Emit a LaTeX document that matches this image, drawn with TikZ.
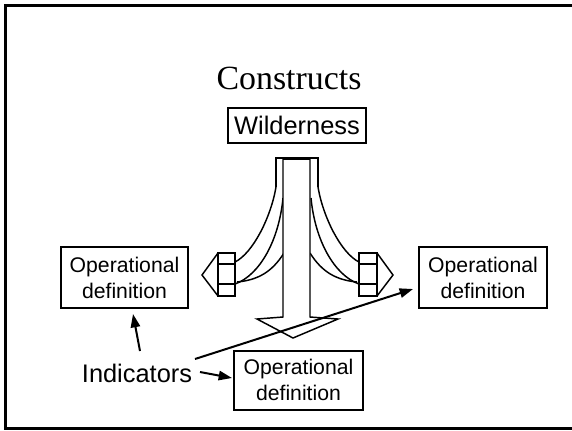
\documentclass[tikz,border=0pt]{standalone}
\usepackage{fontspec}
\newfontfamily\arialf{Liberation Sans}
\newfontfamily\tnrf{Liberation Serif}
\usetikzlibrary{arrows.meta}
\begin{document}
\begin{tikzpicture}[x=0.75pt,y=-0.75pt,
  opbox/.style={draw,line width=1.5pt,minimum width=95pt,minimum height=45.5pt,inner sep=0pt,align=center,
    font=\arialf\fontsize{15.9}{19.5}\selectfont},
  fig/.style={draw,line width=1.1pt,line join=miter},
  ind/.style={line width=1.5pt,-{Triangle[length=10pt,width=7pt]}}]
\useasboundingbox (0,0) rectangle (572,430);
\begin{scope}
\clip (0,0) rectangle (572,430);
\draw[line width=2pt] (5.3,5.3) rectangle (590,428.7);
\end{scope}
\node[font=\tnrf\fontsize{25.4}{30}\selectfont,anchor=base] (title) at (289,89) {Constructs};
\node[draw,line width=1.5pt,minimum width=103.5pt,minimum height=26.25pt,inner sep=0pt,
  font=\arialf\fontsize{19.05}{23}\selectfont] (wild) at (297,125.5) {Wilderness};
\node[opbox] (opl) at (124.5,277.5) {Operational\\definition};
\node[opbox,minimum width=96pt] (opr) at (483,277.5) {Operational\\definition};
\node[opbox,minimum width=96.75pt,minimum height=44.25pt] (opb) at (298.5,380) {Operational\\definition};
\node[font=\arialf\fontsize{19.05}{23}\selectfont] (ind) at (137,373) {Indicators};
% central figure
\draw[fig] (276,187) -- (276,158) -- (318,158) -- (318,187);
% left curves
\draw[fig] (276,187) .. controls (271,217) and (253,253) .. (235,262);
\draw[fig] (283,198) .. controls (279,240) and (260,275) .. (235,284);
\draw[fig] (284,253) .. controls (272,272) and (258,280) .. (237,282);
% right curves
\draw[fig] (318,187) .. controls (323,217) and (341,253) .. (359,262);
\draw[fig] (311,198) .. controls (315,240) and (334,275) .. (359,284);
\draw[fig] (310,253) .. controls (322,272) and (336,280) .. (357,282);
% left end block
\draw[fig] (218,253) rectangle (235,296);
\draw[fig] (218,264) -- (235,264) (218,284) -- (235,284);
\draw[fig] (218,253) -- (202,275) -- (218,296);
% right end block
\draw[fig] (359,253) rectangle (377,296);
\draw[fig] (359,264) -- (377,264) (359,284) -- (377,284);
\draw[fig,line width=2pt] (377,253) -- (377,296);
\draw[fig] (377,253) -- (393,275) -- (377,296);
% shaft with head
\draw[fig,fill=white] (283,159) -- (283,317) -- (257,319) -- (293,338) -- (338,319) -- (310,317) -- (310,159) -- cycle;
\draw[line width=2pt] (283,159) -- (310,159);
% indicator arrows
\coordinate (s1) at (140,351);
\coordinate (t1) at (133,314);
\coordinate (s2) at (195,359);
\coordinate (t2) at (413,289);
\coordinate (s3) at (200,372);
\coordinate (t3) at (232,378);
\draw[ind] (s1) -- (t1);
\draw[ind] (s2) -- (t2);
\draw[ind] (s3) -- (t3);
\end{tikzpicture}
\end{document}
